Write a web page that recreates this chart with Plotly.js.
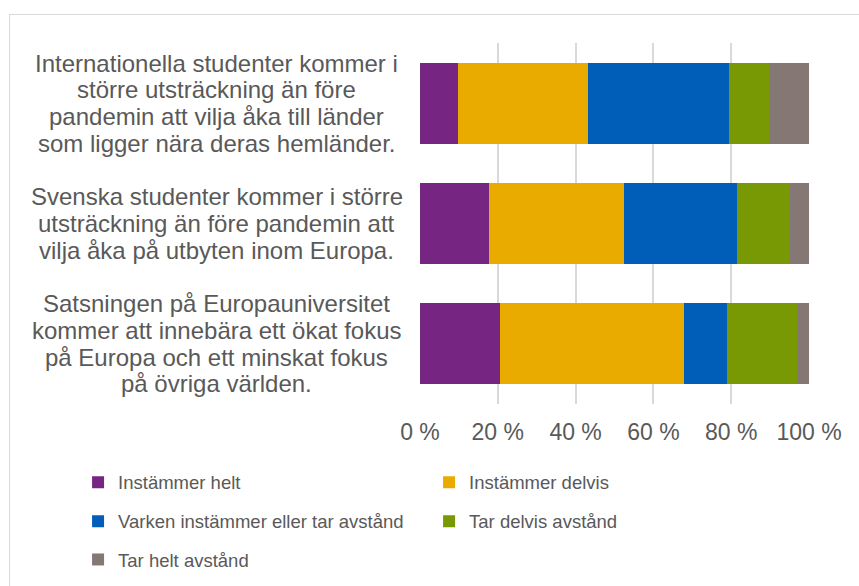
<!DOCTYPE html>
<html>
<head>
<meta charset="utf-8">
<script src="https://cdn.plot.ly/plotly-3.0.1.min.js"></script>
<style>
    body { margin: 0; background: #fff; }
    #frame { position: absolute; left: 9px; top: 14px; width: 900px; height: 700px; border: 1px solid #d9d9d9; }
    #chart { position: absolute; left: 0; top: 0; width: 859px; height: 586px; }
</style>
</head>
<body>
<div id="frame"></div>
<div id="chart"></div>
<script>
const categories = [
    ["Internationella studenter kommer i", "större utsträckning än före", "pandemin att vilja åka till länder", "som ligger nära deras hemländer."],
    ["Svenska studenter kommer i större", "utsträckning än före pandemin att", "vilja åka på utbyten inom Europa."],
    ["Satsningen på Europauniversitet", "kommer att innebära ett ökat fokus", "på Europa och ett minskat fokus", "på övriga världen."]
];
const catKeys = ["Internationella", "Svenska", "Satsningen"];

const seriesNames = ["Instämmer helt", "Instämmer delvis", "Varken instämmer eller tar avstånd", "Tar delvis avstånd", "Tar helt avstånd"];
const seriesColors = ["#772583", "#eaab00", "#005eb8", "#789904", "#857874"];

const instammerHelt = [9.8, 17.8, 20.6];
const instammerDelvis = [33.3, 34.6, 47.2];
const varken = [36.3, 29.1, 11.1];
const tarDelvis = [10.4, 13.5, 18.1];
const tarHelt = [10.2, 5.0, 3.0];

const allValues = [instammerHelt, instammerDelvis, varken, tarDelvis, tarHelt];
const legendFor = ["legend", "legend", "legend2", "legend2", "legend3"];

const textColor = "#595959";
const fontFamily = "Liberation Sans, Arial, sans-serif";

const data = allValues.map((vals, i) => ({
    type: "bar",
    orientation: "h",
    name: seriesNames[i],
    y: catKeys,
    x: vals,
    marker: { color: seriesColors[i] },
    legend: legendFor[i],
    hoverinfo: "x+name",
}));

// category labels, one annotation per line so the line spacing matches
const lineStep = 26.7;
const annotations = [];
categories.forEach((lines, ci) => {
    lines.forEach((line, li) => {
        annotations.push({
            xref: "paper",
            yref: "y",
            x: -0.523,
            y: catKeys[ci],
            xanchor: "center",
            yanchor: "middle",
            yshift: ((lines.length - 1) / 2 - li) * lineStep,
            text: line,
            showarrow: false,
            font: { size: 24, color: textColor, family: fontFamily },
        });
    });
});

function legendBox(y) {
    return {
        orientation: "h",
        x: -0.879,
        xanchor: "left",
        y: y,
        yanchor: "middle",
        entrywidth: 306,
        entrywidthmode: "pixels",
        font: { size: 18.5, color: textColor, family: fontFamily },
        bgcolor: "rgba(0,0,0,0)",
        traceorder: "normal",
    };
}

const layout = {
    width: 859,
    height: 586,
    barmode: "stack",
    bargap: 0.325,
    margin: { l: 420, r: 50, t: 43, b: 182, autoexpand: false },
    paper_bgcolor: "rgba(0,0,0,0)",
    plot_bgcolor: "rgba(0,0,0,0)",
    font: { family: fontFamily, color: textColor },
    showlegend: true,
    xaxis: {
        range: [0, 100],
        dtick: 20,
        ticksuffix: " %",
        showgrid: true,
        gridcolor: "#d9d9d9",
        gridwidth: 1.5,
        zeroline: false,
        showline: false,
        automargin: false,
        ticklabelstandoff: 12,
        tickfont: { size: 23, color: textColor },
        fixedrange: true,
    },
    yaxis: {
        type: "category",
        autorange: "reversed",
        showticklabels: false,
        showgrid: false,
        zeroline: false,
        automargin: false,
        fixedrange: true,
    },
    legend: legendBox(-0.218),
    legend2: legendBox(-0.326),
    legend3: legendBox(-0.432),
    annotations: annotations,
};

Plotly.newPlot("chart", data, layout, { displayModeBar: false, responsive: false });
</script>
</body>
</html>
